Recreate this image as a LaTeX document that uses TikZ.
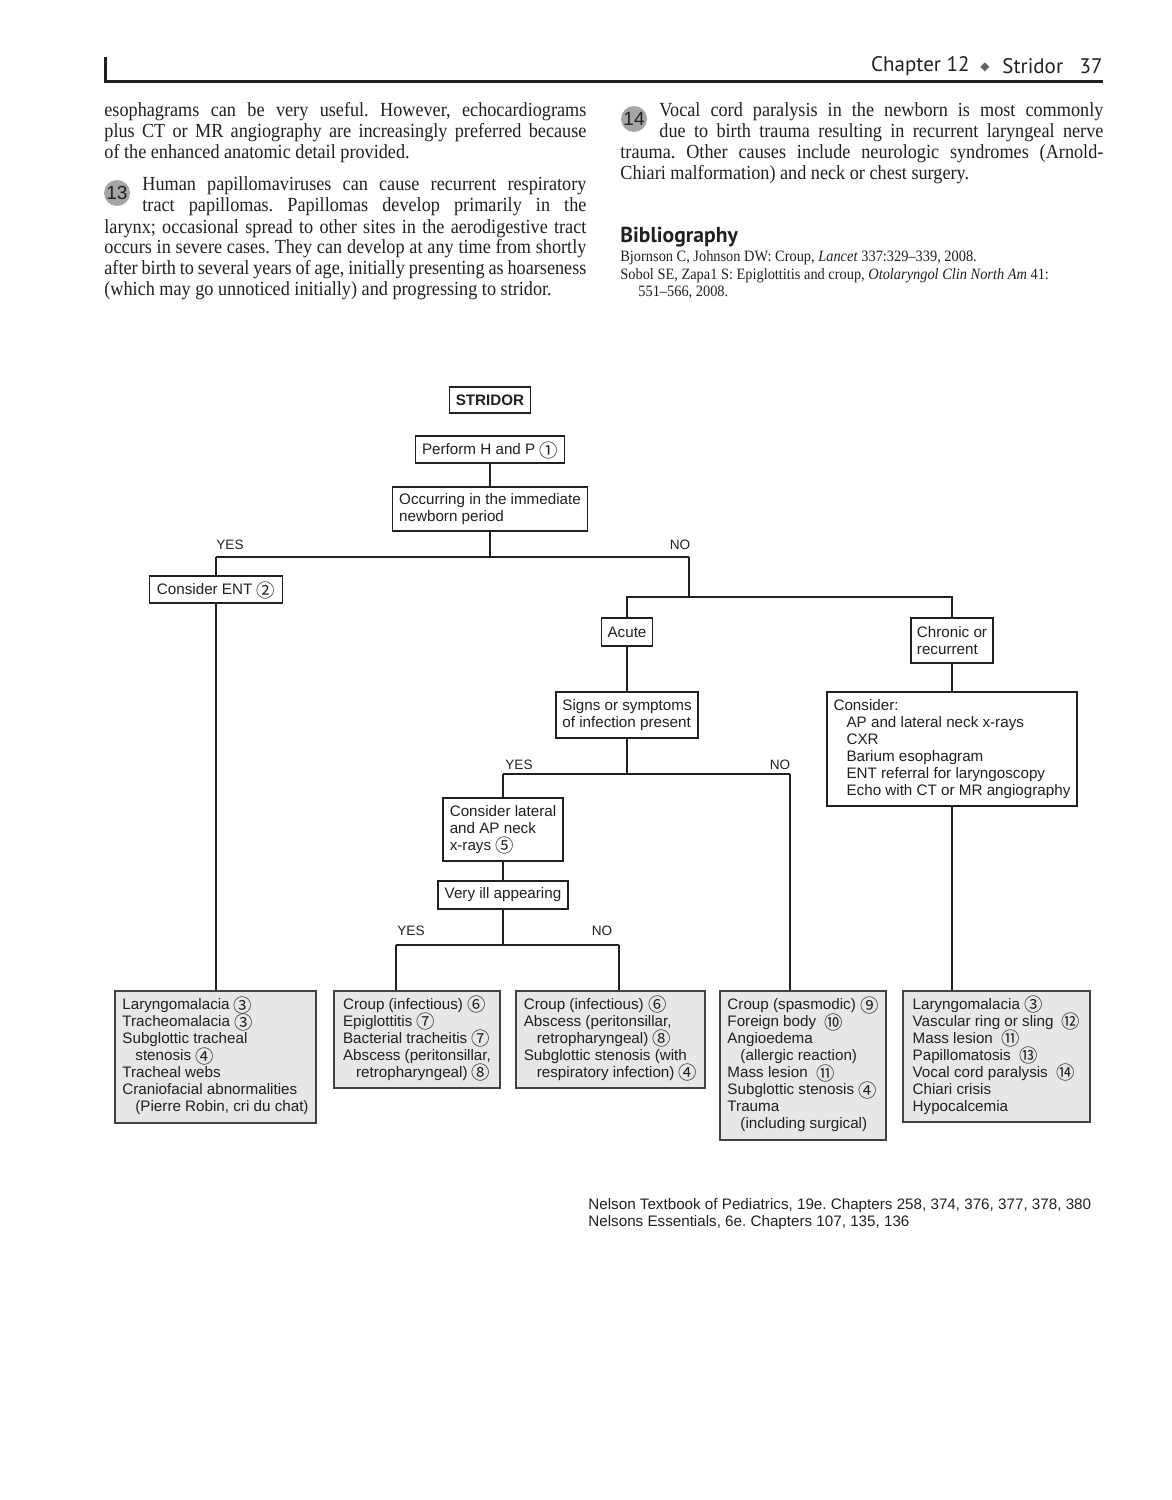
\documentclass[tikz,border=0pt]{standalone}
\usepackage{fontspec}
\setmainfont[FakeStretch=0.91]{Liberation Serif}
\setsansfont{Liberation Sans}
\newfontfamily\headfont{PT Sans}
\newfontfamily\symfont{DejaVu Sans}
\newfontfamily\cjk{Noto Sans CJK SC}
\usetikzlibrary{positioning}
\frenchspacing
\definecolor{ink}{RGB}{35,31,32}
\definecolor{dxfill}{RGB}{231,231,233}
\definecolor{badge}{RGB}{165,165,165}
\newcommand{\cn}[1]{\smash{\raisebox{-1.1pt}{\cjk\fontsize{9.2}{8.5}\selectfont #1}}}
\newcommand{\ind}{\hspace*{6.5pt}}
\newcommand{\wideline}[1]{\makebox[241pt][s]{#1}}
\newcommand{\narrowline}[1]{\makebox[222pt][s]{#1}}
\tikzset{
  qbox/.style={rectangle, draw=ink, line width=0.6pt, fill=white,
    font=\sffamily\fontsize{7.6}{8.5}\selectfont, text=ink, align=left,
    inner xsep=3pt, inner ysep=2pt},
  dxbox/.style={qbox, fill=dxfill, draw=ink!85},
  link/.style={draw=ink, line width=0.8pt},
  lbl/.style={font=\sffamily\fontsize{6.8}{8}\selectfont, text=ink, inner sep=0pt},
  body/.style={inner sep=0pt, anchor=west, align=left, text=ink,
    font=\fontsize{10}{10.4}\selectfont},
  head/.style={inner sep=0pt, text=ink, font=\headfont\fontsize{10.5}{12}\selectfont},
  badgenum/.style={circle, fill=badge, minimum size=13pt, inner sep=0pt,
    text=ink, font=\sffamily\fontsize{9.5}{9.5}\selectfont},
}
\begin{document}
\begin{tikzpicture}[x=0.5pt, y=-0.5pt]
\useasboundingbox (0,0) rectangle (1172,1500);

% running head
\draw[ink, line width=1.5pt] (105,57) -- (105,81) -- (1103,81);
\node[head, anchor=east] (chap) at (970,66) {Chapter 12};
\node[head] (diam) at (985,67) {\symfont\fontsize{6}{6}\selectfont\color{ink!70}◆};
\node[head, anchor=west] (topic) at (1002,66) {Stridor};
\node[head, anchor=east] (page) at (1103,66) {37};

% text columns
\node[body] (para1) at (104,132.5)
  {\wideline{esophagrams can be very useful. However, echocardiograms}\\
   \wideline{plus CT or MR angiography are increasingly preferred because}\\
   of the enhanced anatomic detail provided.};
\node[badgenum] (note13) at (117,193) {13};
\node[body] (para13a) at (142,196.5)
  {\narrowline{Human papillomaviruses can cause recurrent respiratory}\\
   \narrowline{tract papillomas. Papillomas develop primarily in the}};
\node[body] (para13b) at (104,259.5)
  {\wideline{larynx; occasional spread to other sites in the aerodigestive tract}\\
   \wideline{occurs in severe cases. They can develop at any time from shortly}\\
   \wideline{after birth to several years of age, initially presenting as hoarseness}\\
   (which may go unnoticed initially) and progressing to stridor.};
\node[badgenum] (note14) at (634,119) {14};
\node[body] (para14a) at (659,122.5)
  {\narrowline{Vocal cord paralysis in the newborn is most commonly}\\
   \narrowline{due to birth trauma resulting in recurrent laryngeal nerve}};
\node[body] (para14b) at (620,164.5)
  {\makebox[241.5pt][s]{trauma. Other causes include neurologic syndromes (Arnold-}\\
   Chiari malformation) and neck or chest surgery.};

% bibliography
\node[inner sep=0pt, anchor=west, text=ink, font=\headfont\bfseries\fontsize{10.8}{12}\selectfont]
  (bibhead) at (620,237) {Bibliography};
\node[inner sep=0pt, anchor=west, align=left, text=ink, font=\fontsize{7.9}{8.8}\selectfont]
  (bibrefs) at (620,275)
  {Bjornson C, Johnson DW: Croup, \textit{Lancet} 337:329--339, 2008.\\
   Sobol SE, Zapa1 S: Epiglottitis and croup, \textit{Otolaryngol Clin North Am} 41:\\
   \hspace*{9pt}551--566, 2008.};

% algorithm
\node[qbox, font=\sffamily\bfseries\fontsize{7.6}{8.5}\selectfont, minimum width=40pt, minimum height=13pt]
  (stridor) at (490,400) {STRIDOR};
\node[qbox, minimum width=74.5pt, minimum height=13.5pt] (hp) at (490,449.5) {Perform H and P \cn{①}};
\node[qbox, minimum width=97.5pt, minimum height=22pt] (newborn) at (490,509)
  {Occurring in the immediate\\newborn period};
\node[qbox, minimum width=66.5pt, minimum height=13.5pt] (ent) at (216,589.5) {Consider ENT \cn{②}};
\node[qbox, minimum width=25pt, minimum height=14pt] (acute) at (627,632) {Acute};
\node[qbox, minimum width=40.5pt, minimum height=22.5pt] (chronic) at (952,640.5) {Chronic or\\recurrent};
\node[qbox, minimum width=71pt, minimum height=23pt] (signs) at (627,715)
  {Signs or symptoms\\of infection present};
\node[qbox, minimum width=125pt, minimum height=57pt] (consider) at (952,749)
  {Consider:\\
   \ind AP and lateral neck x-rays\\
   \ind CXR\\
   \ind Barium esophagram\\
   \ind ENT referral for laryngoscopy\\
   \ind Echo with CT or MR angiography};
\node[qbox, minimum width=60pt, minimum height=31.5pt] (xray) at (503,829.5)
  {Consider lateral\\and AP neck\\x-rays \cn{⑤}};
\node[qbox, minimum width=65pt, minimum height=14pt] (illapp) at (503,895) {Very ill appearing};

% diagnoses
\node[dxbox, minimum width=100.5pt, minimum height=66pt] (dxa) at (215.5,1057)
  {Laryngomalacia \cn{③}\\
   Tracheomalacia \cn{③}\\
   Subglottic tracheal\\
   \ind stenosis \cn{④}\\
   Tracheal webs\\
   Craniofacial abnormalities\\
   \ind (Pierre Robin, cri du chat)};
\node[dxbox, minimum width=83pt, minimum height=48.5pt] (dxb) at (417,1039.5)
  {Croup (infectious) \cn{⑥}\\
   Epiglottitis \cn{⑦}\\
   Bacterial tracheitis \cn{⑦}\\
   Abscess (peritonsillar,\\
   \ind retropharyngeal) \cn{⑧}};
\node[dxbox, minimum width=94.5pt, minimum height=48.5pt] (dxc) at (610.5,1039.5)
  {Croup (infectious) \cn{⑥}\\
   Abscess (peritonsillar,\\
   \ind retropharyngeal) \cn{⑧}\\
   Subglottic stenosis (with\\
   \ind respiratory infection) \cn{④}};
\node[dxbox, minimum width=83pt, minimum height=74.5pt] (dxd) at (803,1065.5)
  {Croup (spasmodic) \cn{⑨}\\
   Foreign body \ \cn{⑩}\\
   Angioedema\\
   \ind (allergic reaction)\\
   Mass lesion \ \cn{⑪}\\
   Subglottic stenosis \cn{④}\\
   Trauma\\
   \ind (including surgical)};
\node[dxbox, minimum width=93.5pt, minimum height=65.5pt] (dxe) at (996.5,1056.5)
  {Laryngomalacia \cn{③}\\
   Vascular ring or sling \ \cn{⑫}\\
   Mass lesion \ \cn{⑪}\\
   Papillomatosis \ \cn{⑬}\\
   Vocal cord paralysis \ \cn{⑭}\\
   Chiari crisis\\
   Hypocalcemia};

% branch points
\coordinate (split1) at (490,557);
\coordinate (yes1) at (216,557);
\coordinate (no1) at (689,557);
\coordinate (split2) at (689,597);
\coordinate (split3) at (627,774);
\coordinate (yes2) at (503,774);
\coordinate (no2) at (790,774);
\coordinate (split4) at (503,945);
\coordinate (yes3) at (396,945);
\coordinate (no3) at (619,945);

% connectors
\draw[link] (hp) -- (newborn);
\draw[link] (newborn) -- (split1);
\draw[link] (yes1) -- (no1);
\draw[link] (yes1) -- (ent);
\draw[link] (ent) -- (ent |- dxa.north);
\draw[link] (no1) -- (split2);
\draw[link] (split2) -| (acute);
\draw[link] (split2) -| (chronic);
\draw[link] (acute) -- (signs);
\draw[link] (chronic) -- (consider);
\draw[link] (consider) -- (consider |- dxe.north);
\draw[link] (signs) -- (split3);
\draw[link] (yes2) -- (no2);
\draw[link] (yes2) -- (xray);
\draw[link] (no2) -- (no2 |- dxd.north);
\draw[link] (xray) -- (illapp);
\draw[link] (illapp) -- (split4);
\draw[link] (yes3) -- (no3);
\draw[link] (yes3) -- (yes3 |- dxb.north);
\draw[link] (no3) -- (no3 |- dxc.north);

% branch labels
\foreach \t/\x/\y [count=\i] in {YES/230/545, NO/680/545, YES/519/765,
    NO/780/765, YES/411/931, NO/602/931}
  \node[lbl] (ans\i) at (\x,\y) {\t};

% sources
\node[inner sep=0pt, anchor=west, align=left, text=ink,
  font=\sffamily\fontsize{7.6}{8.5}\selectfont] (sources) at (588,1214.5)
  {Nelson Textbook of Pediatrics, 19e. Chapters 258, 374, 376, 377, 378, 380\\
   Nelsons Essentials, 6e. Chapters 107, 135, 136};
\end{tikzpicture}
\end{document}
